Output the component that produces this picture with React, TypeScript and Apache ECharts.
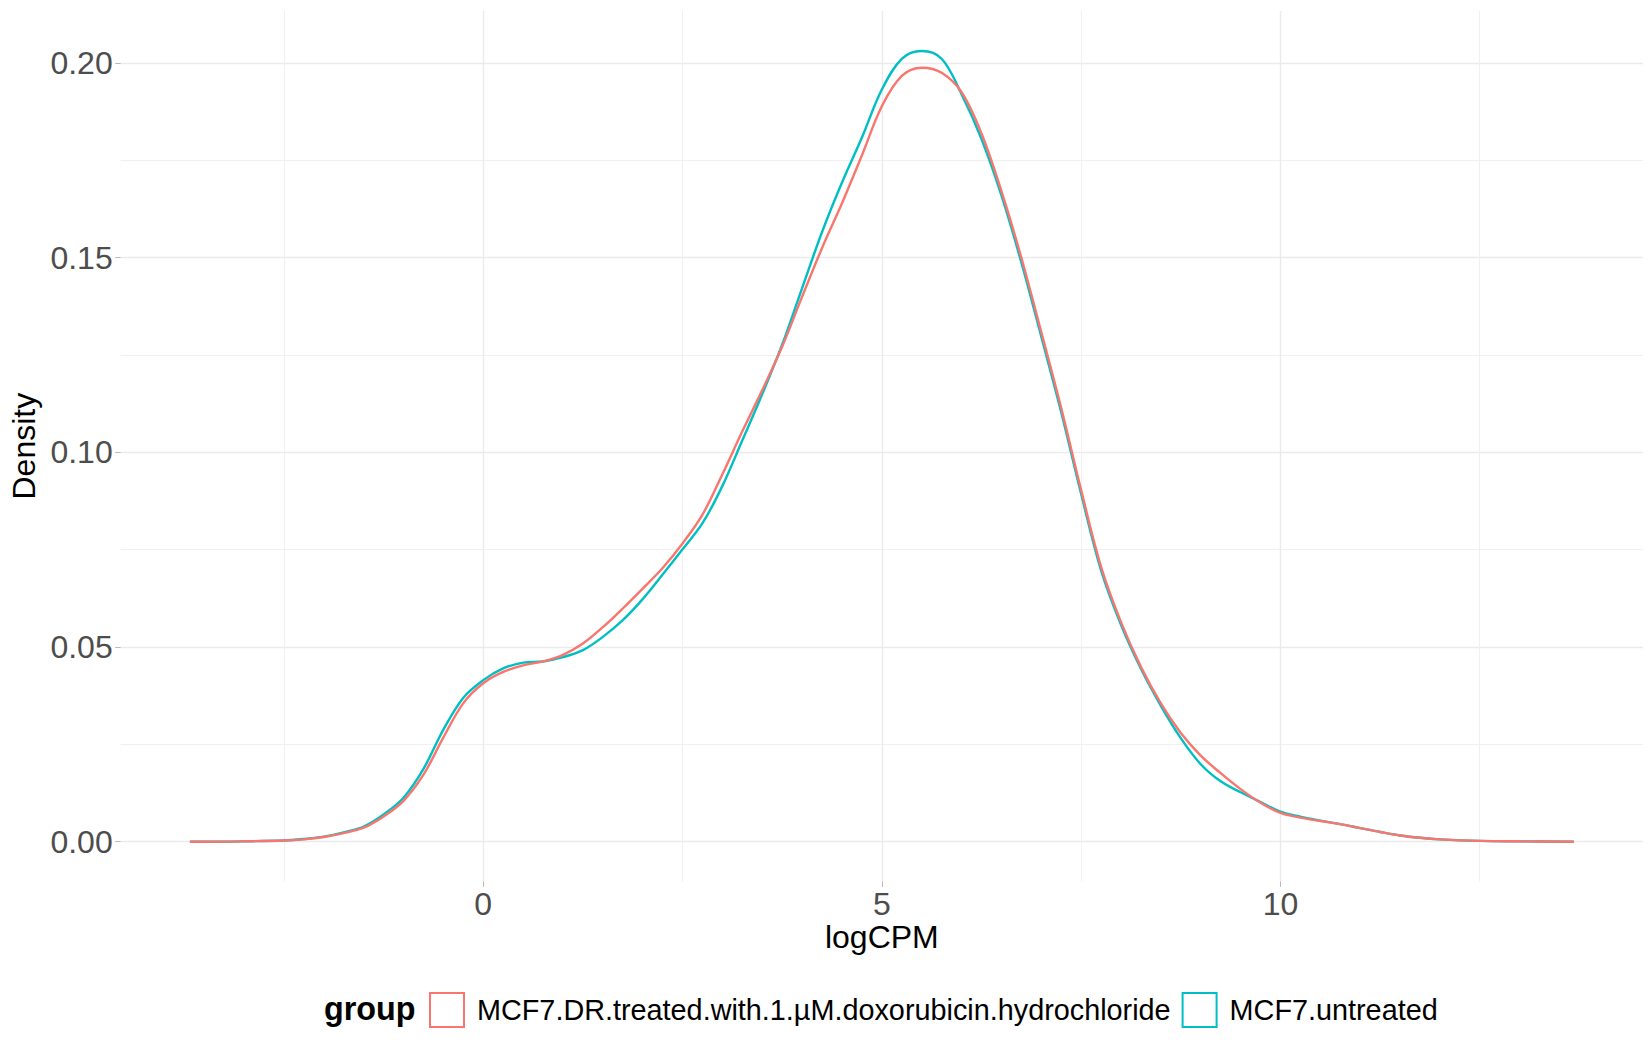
import React, { useEffect, useRef } from 'react';
import * as echarts from 'echarts';

// logCPM positions of the sampled density curve
const logCPM = [
  -3.68, -3.5, -3.0, -2.5, -2.25,
  -2.0, -1.75, -1.5, -1.25, -1.0, -0.75, -0.5, -0.25,
  0, 0.25, 0.5, 0.75, 1.0, 1.25, 1.5, 1.75, 2.0, 2.25, 2.5, 2.75, 3.0, 3.25, 3.5, 3.75,
  4.0, 4.25, 4.5, 4.75, 5.0, 5.25, 5.5, 5.75, 6.0, 6.25, 6.5, 6.75, 7.0, 7.25, 7.5, 7.75,
  8.0, 8.25, 8.5, 8.75, 9.0, 9.25, 9.5, 9.75, 10.0, 10.25, 10.5, 10.75,
  11.0, 11.25, 11.5, 11.75, 12.0, 12.5, 13.0, 13.68,
];

// Density: MCF7.DR.treated.with.1.µM.doxorubicin.hydrochloride
const treatedDensity = [
  0.0000, 0.0000, 0.0001, 0.0003, 0.0006,
  0.0012, 0.0022, 0.0036, 0.0065, 0.0105, 0.0172, 0.0268, 0.0356,
  0.0407, 0.0436, 0.0453, 0.0463, 0.0480, 0.0509, 0.0551, 0.0599, 0.0650, 0.0703, 0.0766, 0.0840, 0.0944, 0.1054, 0.1160, 0.1272,
  0.1400, 0.1525, 0.1640, 0.1763, 0.1889, 0.1967, 0.1988, 0.1975, 0.1925, 0.1819, 0.1671, 0.1500, 0.1309, 0.1114, 0.0903, 0.0706,
  0.0564, 0.0449, 0.0355, 0.0279, 0.0221, 0.0176, 0.0135, 0.0100, 0.0074, 0.0062, 0.0053, 0.0045,
  0.0035, 0.0025, 0.0016, 0.0010, 0.0006, 0.0002, 0.0001, 0.0000,
];

// Density: MCF7.untreated
const untreatedDensity = [
  0.0000, 0.0000, 0.0001, 0.0003, 0.0007,
  0.0013, 0.0024, 0.0039, 0.0070, 0.0113, 0.0187, 0.0288, 0.0370,
  0.0415, 0.0445, 0.0460, 0.0463, 0.0474, 0.0492, 0.0526, 0.0569, 0.0623, 0.0686, 0.0751, 0.0818, 0.0914, 0.1031, 0.1150, 0.1277,
  0.1422, 0.1566, 0.1693, 0.1809, 0.1932, 0.2011, 0.2031, 0.2011, 0.1920, 0.1805, 0.1660, 0.1488, 0.1297, 0.1103, 0.0893, 0.0697,
  0.0557, 0.0444, 0.0349, 0.0266, 0.0199, 0.0155, 0.0127, 0.0102, 0.0077, 0.0064, 0.0054, 0.0045,
  0.0035, 0.0025, 0.0016, 0.0010, 0.0006, 0.0002, 0.0001, 0.0000,
];

const groupNames = ['MCF7.DR.treated.with.1.µM.doxorubicin.hydrochloride', 'MCF7.untreated'];
const groupColors = ['#F8766D', '#00BFC4'];
const legendTitle = 'group';
const xTitle = 'logCPM';
const yTitle = 'Density';

const xMajorTicks = [0, 5, 10];
const xMinorTicks = [-2.5, 2.5, 7.5, 12.5];
const yMajorTicks = [0, 0.05, 0.1, 0.15, 0.2];
const yMinorTicks = [0.025, 0.075, 0.125, 0.175];

const X_MIN = -4.548;
const X_MAX = 14.548;
const Y_MIN = -0.0102;
const Y_MAX = 0.2134;

const FONT = "'Liberation Sans', Arial, Helvetica, sans-serif";

export default function App() {
  const ref = useRef<HTMLDivElement>(null);

  useEffect(() => {
    if (!ref.current) return;
    const chart = echarts.init(ref.current, undefined, { renderer: 'svg' });

    const majorGrid = { color: '#EBEBEB', width: 1.4 };
    const minorGrid = { color: '#F0F0F0', width: 1 };
    const tickStyle = { color: '#B8B8B8', width: 1 };

    const series = [
      {
        name: groupNames[1],
        data: logCPM.map((x, i) => [x, untreatedDensity[i]]),
        color: groupColors[1],
        z: 2,
      },
      {
        name: groupNames[0],
        data: logCPM.map((x, i) => [x, treatedDensity[i]]),
        color: groupColors[0],
        z: 3,
      },
    ].map((s) => ({
      name: s.name,
      type: 'line',
      data: s.data,
      smooth: 0.35,
      symbol: 'none',
      showSymbol: false,
      xAxisIndex: 0,
      yAxisIndex: 0,
      z: s.z,
      lineStyle: { color: s.color, width: 2.4 },
      itemStyle: { color: s.color },
      emphasis: { disabled: true },
    }));

    const option: any = {
      animation: false,
      backgroundColor: '#ffffff',
      textStyle: { fontFamily: FONT },
      grid: {
        left: 120.7,
        right: 7,
        top: 10.9,
        bottom: 168.6,
        containLabel: false,
        outerBoundsMode: 'none',
      },
      xAxis: [
        {
          type: 'value',
          min: X_MIN,
          max: X_MAX,
          position: 'bottom',
          name: xTitle,
          nameLocation: 'middle',
          nameGap: 55.8,
          nameMoveOverlap: false,
          nameTextStyle: {
            fontSize: 32,
            color: '#000000',
            fontFamily: FONT,
            verticalAlign: 'middle',
            lineHeight: 32,
          },
          axisLine: { show: false, onZero: false },
          axisTick: { show: true, length: 5.5, lineStyle: tickStyle, customValues: xMajorTicks },
          axisLabel: {
            show: true,
            customValues: xMajorTicks,
            fontSize: 32,
            color: '#4D4D4D',
            fontFamily: FONT,
            margin: 22.2,
            verticalAlign: 'middle',
            lineHeight: 32,
            formatter: (v: number) => String(v),
          },
          splitLine: { show: true, lineStyle: majorGrid },
          minorTick: { show: false },
          minorSplitLine: { show: false },
        },
        {
          type: 'value',
          min: X_MIN,
          max: X_MAX,
          position: 'bottom',
          axisLine: { show: false, onZero: false },
          axisTick: { show: false, customValues: xMinorTicks },
          axisLabel: { show: false, customValues: xMinorTicks },
          splitLine: { show: true, lineStyle: minorGrid },
        },
      ],
      yAxis: [
        {
          type: 'value',
          min: Y_MIN,
          max: Y_MAX,
          position: 'left',
          name: yTitle,
          nameLocation: 'middle',
          nameGap: 97.2,
          nameMoveOverlap: false,
          nameRotate: 90,
          nameTextStyle: {
            fontSize: 32,
            color: '#000000',
            fontFamily: FONT,
            verticalAlign: 'middle',
            lineHeight: 32,
          },
          axisLine: { show: false, onZero: false },
          axisTick: { show: true, length: 5.5, lineStyle: tickStyle, customValues: yMajorTicks },
          axisLabel: {
            show: true,
            customValues: yMajorTicks,
            fontSize: 32,
            color: '#4D4D4D',
            fontFamily: FONT,
            margin: 8,
            formatter: (v: number) => v.toFixed(2),
          },
          splitLine: { show: true, lineStyle: majorGrid },
          minorTick: { show: false },
          minorSplitLine: { show: false },
        },
        {
          type: 'value',
          min: Y_MIN,
          max: Y_MAX,
          position: 'right',
          axisLine: { show: false, onZero: false },
          axisTick: { show: false, customValues: yMinorTicks },
          axisLabel: { show: false, customValues: yMinorTicks },
          splitLine: { show: true, lineStyle: minorGrid },
        },
      ],
      legend: {
        show: true,
        orient: 'horizontal',
        left: 429,
        top: 992,
        padding: 0,
        icon: 'rect',
        itemWidth: 34,
        itemHeight: 34,
        itemGap: 11,
        selectedMode: false,
        textStyle: {
          fontSize: 28.8,
          color: '#000000',
          fontFamily: FONT,
          padding: [0, 0, 0, 8],
        },
        data: groupNames.map((n, i) => ({
          name: n,
          itemStyle: { color: '#ffffff', borderColor: groupColors[i], borderWidth: 2 },
        })),
      },
      graphic: [
        {
          type: 'text',
          x: 324,
          y: 1008.5,
          silent: true,
          style: {
            text: legendTitle,
            fontSize: 32.3,
            fontWeight: 'bold',
            fontFamily: FONT,
            fill: '#000000',
            align: 'left',
            verticalAlign: 'middle',
          },
        },
      ],
      series,
    };

    chart.setOption(option);
    return () => {
      chart.dispose();
    };
  }, []);

  return (
    <div
      ref={ref}
      style={{ position: 'fixed', left: 0, top: 0, width: 1650, height: 1050, background: '#ffffff' }}
    />
  );
}
